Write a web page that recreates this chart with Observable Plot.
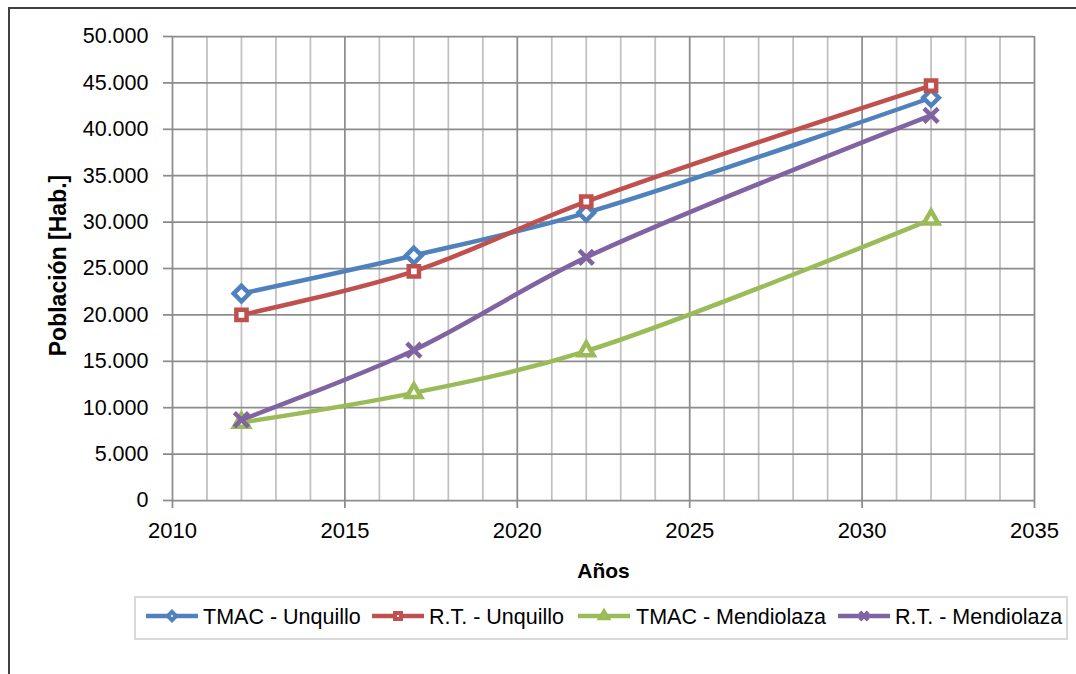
<!DOCTYPE html>
<html>
<head>
<meta charset="utf-8">
<script src="https://cdn.jsdelivr.net/npm/d3@7"></script>
<script src="https://cdn.jsdelivr.net/npm/@observablehq/plot@0.6"></script>
<style>
  html, body { margin: 0; padding: 0; background: #fff; }
  #wrap { position: relative; width: 1076px; height: 674px; overflow: hidden;
    font-family: "Liberation Sans", Arial, sans-serif; }
  #frame { position: absolute; left: 8px; top: 7px; width: 1100px; height: 700px;
    border-top: 2px solid #404040; border-left: 2px solid #404040; }
  #chart { position: absolute; left: 0; top: 0; }
  #legend { position: absolute; left: 134px; top: 596px; width: 930px; height: 40px;
    border: 2px solid #d9d9d9; }
  .sw { position: absolute; top: 8px; }
  .lt { position: absolute; top: 6px; font-size: 21.5px; line-height: 26px; white-space: nowrap; color: #000; }
</style>
</head>
<body>
<div id="wrap">
  <div id="frame"></div>
  <div id="chart"></div>
  <div id="legend"></div>
</div>
<script>
const years = [2012, 2017, 2022, 2032];
const seriesNames = ["TMAC - Unquillo", "R.T. - Unquillo", "TMAC - Mendiolaza", "R.T. - Mendiolaza"];
const tmacUnquillo = [22300, 26400, 31000, 43400];
const rtUnquillo = [20000, 24700, 32200, 44700];
const tmacMendiolaza = [8400, 11600, 16100, 30300];
const rtMendiolaza = [8700, 16200, 26200, 41500];
const colors = ["#4F81BD", "#C0504D", "#9BBB59", "#8064A2"];
const symbols = ["diamond2", "square2", "triangle2", "times"];
const xTicks = [2010, 2015, 2020, 2025, 2030, 2035];
const xMinor = d3.range(2010, 2036);
const yTicks = [0, 5000, 10000, 15000, 20000, 25000, 30000, 35000, 40000, 45000, 50000];
const xTitle = "Años";
const yTitle = "Población [Hab.]";

const valuesList = [tmacUnquillo, rtUnquillo, tmacMendiolaza, rtMendiolaza];
const data = [];
seriesNames.forEach((s, i) => years.forEach((y, j) => data.push({series: s, year: y, value: valuesList[i][j]})));

const fmt = d3.formatLocale({decimal: ",", thousands: ".", grouping: [3], currency: ["", ""]}).format(",");
const font = '"Liberation Sans", Arial, sans-serif';
const symR = [7, 6.5, 7, 6.5];
const symW = [4.5, 4.5, 4.5, 4.5];

const marks = [
  Plot.ruleX(xMinor.filter(d => d % 5 !== 0), {stroke: "#c0c0c0", strokeWidth: 1.75}),
  Plot.ruleX(xTicks, {stroke: "#8c8c8c", strokeWidth: 1.75}),
  Plot.ruleY(yTicks, {stroke: "#8c8c8c", strokeWidth: 1.75}),
  Plot.axisX(xTicks, {tickSize: 8, tickPadding: 14, stroke: "#8c8c8c", strokeWidth: 1.75, fill: "#000", fontSize: 22, tickFormat: d => String(d), label: null}),
  Plot.axisY(yTicks, {tickSize: 9, tickPadding: 15, stroke: "#8c8c8c", strokeWidth: 1.75, fill: "#000", fontSize: 21.5, tickFormat: fmt, label: null}),
];
seriesNames.forEach((s, i) => {
  const d = data.filter(r => r.series === s);
  marks.push(Plot.line(d, {x: "year", y: "value", stroke: colors[i], strokeWidth: 4.5, curve: "catmull-rom"}));
  marks.push(Plot.dot(d, {x: "year", y: "value", symbol: () => symbols[i], r: symR[i], fill: i === 3 ? "none" : "#fff", stroke: colors[i], strokeWidth: symW[i]}));
});
marks.push(Plot.text([xTitle], {frameAnchor: "bottom", dy: 77, fontSize: 21, fontWeight: "bold", fill: "#000"}));
marks.push(Plot.text([yTitle], {frameAnchor: "left", textAnchor: "middle", dx: -114, dy: -3, rotate: -90, fontSize: 23, fontWeight: "bold", fill: "#000"}));

const chart = Plot.plot({
  width: 1076,
  height: 600,
  marginLeft: 172,
  marginRight: 42,
  marginTop: 36,
  marginBottom: 100,
  style: {fontFamily: font, background: "transparent", overflow: "visible"},
  x: {domain: [2010, 2035]},
  y: {domain: [0, 50000]},
  marks
});
document.getElementById("chart").appendChild(chart);

// legend
const leg = document.getElementById("legend");
const legLineX = [145, 371, 577, 837];
const legTextX = [203, 429, 636, 895];
const symMap = {diamond2: d3.symbolDiamond2, square2: d3.symbolSquare2, triangle2: d3.symbolTriangle2, times: d3.symbolTimes};
seriesNames.forEach((s, i) => {
  const svg = d3.create("svg").attr("class", "sw").attr("width", 54).attr("height", 20)
    .style("left", (legLineX[i] - 136) + "px");
  svg.append("line").attr("x1", 1).attr("x2", 53).attr("y1", 10).attr("y2", 10)
    .attr("stroke", colors[i]).attr("stroke-width", 4.5);
  svg.append("path").attr("d", d3.symbol(symMap[symbols[i]], 45)())
    .attr("transform", "translate(27,10)")
    .attr("fill", i === 3 ? "none" : "#fff").attr("stroke", colors[i]).attr("stroke-width", 4);
  leg.appendChild(svg.node());
  const t = document.createElement("span");
  t.className = "lt";
  t.style.left = (legTextX[i] - 136) + "px";
  t.textContent = s;
  leg.appendChild(t);
});
</script>
</body>
</html>
